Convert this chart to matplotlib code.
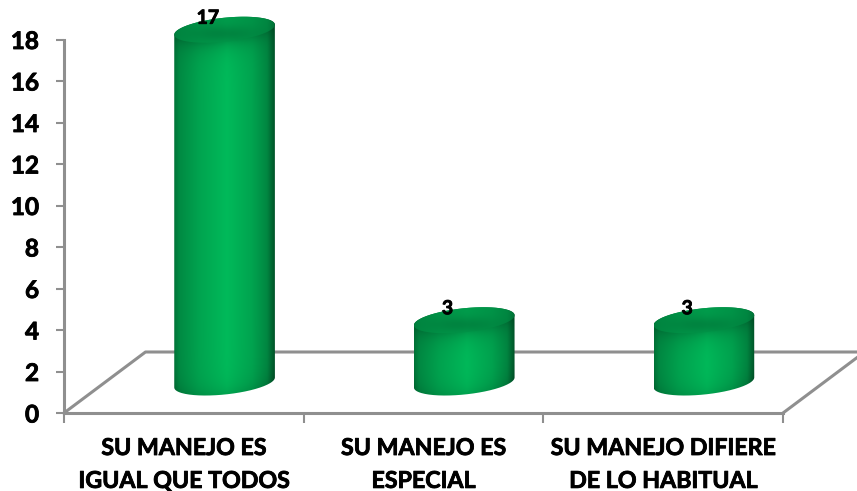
import matplotlib
matplotlib.use("Agg")
import matplotlib.pyplot as plt
import matplotlib.patheffects as pe
from matplotlib.patches import PathPatch, Polygon
from matplotlib.path import Path
import numpy as np

categories = ["SU MANEJO ES\nIGUAL QUE TODOS", "SU MANEJO ES\nESPECIAL", "SU MANEJO DIFIERE\nDE LO HABITUAL"]
values = [17, 3, 3]
yticks = [0, 2, 4, 6, 8, 10, 12, 14, 16, 18]

plt.rcParams['font.family'] = ['Lato', 'DejaVu Sans']
W, H = 857, 491
GREY = '#8f8f8f'
HEAVY = [pe.withStroke(linewidth=0.6, foreground='black')]

# 3d look, in data units (1 category wide, y in chart units)
depth_x = 0.34
depth_y = 2.94
half_w = 0.21
ell_b = 0.58
ell_k = 0.24
BASE = np.array([0, 186, 90]) / 255.0


def ellipse_xy(cx, cy, a, b, k, t):
    return cx + a * np.cos(t), cy + b * np.sin(t) + k * np.cos(t)


def side_profile(u):
    return np.interp(u, [-1, -0.9, -0.5, 0.05, 0.55, 0.85, 1],
                     [0.62, 0.74, 0.88, 1.0, 0.88, 0.72, 0.45])


def body_shade(y0, y1, ny=500, nx=200):
    u = np.linspace(-1, 1, nx)
    ys = np.linspace(y1 + 1.2, y0 - 1.2, ny)
    U, Y = np.meshgrid(u, ys)
    front = -ell_b * np.sqrt(1 - U ** 2) + ell_k * U
    top_d = np.clip(y1 + front - Y, 0, None)
    bot_d = np.clip(Y - (y0 + front), 0, None)
    fade = 1 - 0.2 * np.exp(-top_d / 0.45) - 0.12 * np.exp(-bot_d / 0.5)
    return BASE[None, None, :] * (fade * side_profile(U))[:, :, None]


def cap_shade(y1, ny=120, nx=200):
    u = np.linspace(-1, 1, nx)
    ys = np.linspace(y1 + 1.0, y1 - 1.0, ny)
    U, Y = np.meshgrid(u, ys)
    inner = np.exp(-(U ** 2) * 2.5 - ((Y - y1 + 0.22) / 0.38) ** 2)
    return BASE[None, None, :] * ((0.84 - 0.12 * inner) * (0.5 + 0.5 * side_profile(U)))[:, :, None]


fig = plt.figure(figsize=(W / 100, H / 100), dpi=100)
ax = fig.add_axes([64 / W, 1 - 413 / H, (783 - 64) / W, (413 - 39.5) / H])
ax.set_xlim(0, 3)
ax.set_ylim(0, 18)

# floor
ax.plot([0, depth_x, 3 + depth_x], [0, depth_y, depth_y], color=GREY, lw=2.2, clip_on=False, zorder=1)
ax.plot([3, 3 + depth_x], [0, depth_y], color=GREY, lw=2.2, clip_on=False, zorder=1)

t = np.linspace(0, 2 * np.pi, 160)
for i, v in enumerate(values):
    cx = i + 0.5 + depth_x / 2
    y0 = depth_y / 2
    y1 = y0 + v
    # body outline: lower half of the bottom ellipse, upper half of the top one
    tb = np.linspace(np.pi, 2 * np.pi, 80)
    xb, yb = ellipse_xy(cx, y0, half_w, ell_b, ell_k, tb)
    tt = np.linspace(0, np.pi, 80)
    xt, yt = ellipse_xy(cx, y1, half_w, ell_b, ell_k, tt)
    body = Path(np.column_stack([np.r_[xb, xt], np.r_[yb, yt]]))
    patch = PathPatch(body, fc='none', ec='none', transform=ax.transData, clip_on=False)
    ax.add_patch(patch)
    im = ax.imshow(body_shade(y0, y1), extent=[cx - half_w, cx + half_w, y0 - 1.2, y1 + 1.2],
                   aspect='auto', zorder=3, interpolation='bilinear')
    im.set_clip_box(fig.bbox)
    im.set_clip_path(patch)
    # top cap
    xc, yc = ellipse_xy(cx, y1, half_w, ell_b, ell_k, t)
    cap = Polygon(np.column_stack([xc, yc]), closed=True, fc='none', ec='none', clip_on=False)
    ax.add_patch(cap)
    im2 = ax.imshow(cap_shade(y1), extent=[cx - half_w, cx + half_w, y1 - 1, y1 + 1],
                    aspect='auto', zorder=4, interpolation='bilinear')
    im2.set_clip_box(fig.bbox)
    im2.set_clip_path(cap)
    ax.annotate(str(v), (i + 0.5, v), xytext=(24, 42), textcoords='offset pixels',
                ha='center', va='center', fontsize=14, fontweight='bold', color='black',
                zorder=6, annotation_clip=False, path_effects=HEAVY)

ax.set_xlim(0, 3)
ax.set_ylim(0, 18)

for s in ['top', 'right']:
    ax.spines[s].set_visible(False)
for s in ['left', 'bottom']:
    ax.spines[s].set_color(GREY)
    ax.spines[s].set_linewidth(2.2)
    ax.spines[s].set_zorder(2)

ax.set_yticks(yticks)
ax.set_yticklabels([str(y) for y in yticks], fontsize=17.5, fontweight='bold', path_effects=HEAVY)
ax.tick_params(axis='y', length=6, width=1.5, color=GREY, pad=12)
ax.set_xticks(range(len(categories) + 1))
ax.set_xticklabels([''] * (len(categories) + 1))
ax.tick_params(axis='x', length=7, width=1.5, color=GREY)

for i, c in enumerate(categories):
    ax.annotate(c, (i + 0.5, 0), xytext=(0, -25), textcoords='offset pixels',
                ha='center', va='top', fontsize=16.7, fontweight='bold', color='black',
                linespacing=1.7, annotation_clip=False, path_effects=HEAVY)

fig.savefig('out.png', dpi=100)
